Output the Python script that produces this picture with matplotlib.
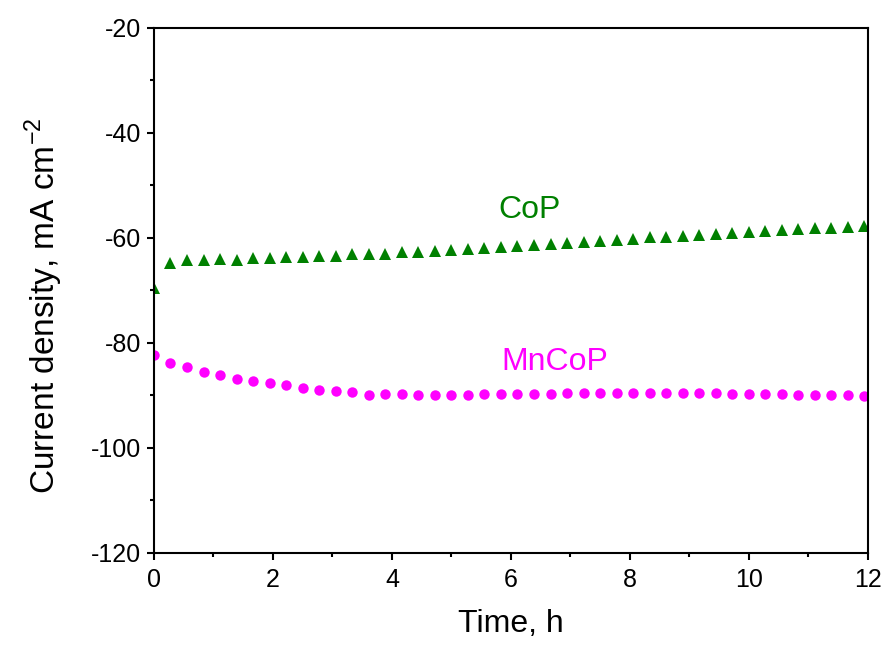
import numpy as np
from matplotlib import pyplot as plt
from matplotlib.ticker import MultipleLocator

plt.rcParams['font.family'] = ['Liberation Sans', 'DejaVu Sans']
plt.rcParams['axes.unicode_minus'] = False

# one sample every 1000 s
time_h = np.arange(44) * 1000 / 3600

cop = [-69.5, -64.7, -64.3, -64.2, -64.0, -64.2, -63.8, -63.9, -63.6, -63.7,
       -63.5, -63.4, -63.1, -63.1, -63.0, -62.7, -62.7, -62.5, -62.3, -62.1,
       -62.0, -61.8, -61.5, -61.3, -61.1, -61.0, -60.8, -60.6, -60.4, -60.2,
       -59.9, -59.8, -59.6, -59.4, -59.2, -59.0, -58.8, -58.7, -58.5, -58.3,
       -58.2, -58.1, -58.0, -57.8]
mncop = [-82.3, -83.8, -84.6, -85.5, -86.2, -86.9, -87.2, -87.7, -88.1, -88.5,
         -89.0, -89.1, -89.4, -89.9, -89.8, -89.8, -89.9, -89.9, -89.9, -89.9,
         -89.8, -89.8, -89.7, -89.7, -89.7, -89.6, -89.6, -89.6, -89.5, -89.5,
         -89.5, -89.5, -89.6, -89.6, -89.6, -89.7, -89.7, -89.8, -89.8, -89.9,
         -89.9, -89.9, -90.0, -90.1]

fig = plt.figure(figsize=(8.9, 6.46), dpi=100)
ax = fig.add_axes([0.173, 0.144, 0.802, 0.813])

ax.plot(time_h, cop, '^', color='#008000', markersize=9, markeredgewidth=0)
ax.plot(time_h, mncop, 'o', color='#ff00ff', markersize=7.5, markeredgewidth=0)

ax.text(6.32, -54.7, 'CoP', color='#008000', fontsize=23, ha='center', va='center')
ax.text(6.74, -83.6, 'MnCoP', color='#ff00ff', fontsize=23, ha='center', va='center')

ax.set_xlim(0, 12)
ax.set_ylim(-120, -20)
ax.xaxis.set_major_locator(MultipleLocator(2))
ax.xaxis.set_minor_locator(MultipleLocator(1))
ax.yaxis.set_major_locator(MultipleLocator(20))
ax.yaxis.set_minor_locator(MultipleLocator(10))
ax.tick_params(which='both', direction='out', width=1.5, labelsize=18, top=False, right=False)
ax.tick_params(which='major', length=5, pad=4)
ax.tick_params(axis='x', which='major', pad=6)
ax.tick_params(which='minor', length=3)
for s in ax.spines.values():
    s.set_linewidth(1.5)

ax.set_xlabel('Time, h', fontsize=23, labelpad=12)
ax.set_ylabel(r'Current density, mA cm$^{\mathregular{-2}}$', fontsize=24)
ax.yaxis.set_label_coords(-0.124, 0.47)

plt.savefig('out.png', dpi=100)
